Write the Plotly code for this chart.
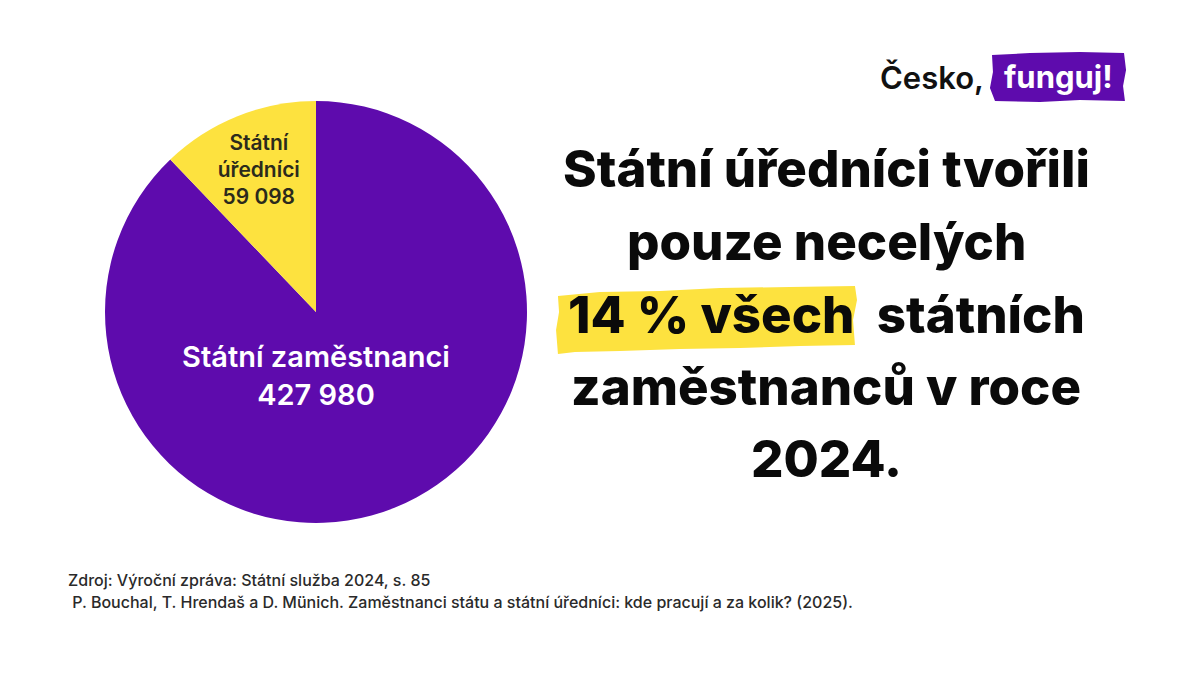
import plotly.graph_objects as go

W, H = 1200, 675
OFF = 8  # page body margin

# data
labels = ["Státní zaměstnanci", "Státní úředníci"]
label_text = ["Státní zaměstnanci", "Státní<br>úředníci"]
values = [427980, 59098]
colors = ["#5E0BAD", "#FDE23F"]
text_colors = ["#FFFFFF", "#2B2A1C"]

title_lines = [
    "Státní úředníci tvořili",
    "pouze necelých",
    "14 % všech\u00a0\u00a0státních",
    "zaměstnanců v roce",
    "2024.",
]
source_lines = [
    "Zdroj: Výroční zpráva: Státní služba 2024, s. 85",
    " P. Bouchal, T. Hrendaš a D. Münich. Zaměstnanci státu a státní úředníci: kde pracují a za kolik? (2025).",
]


def px(x):
    return (x - OFF) / W


def py(y):
    return 1 - (y - OFF) / H


def brush(pts):
    # pixel points -> svg path in paper coords
    return "M " + " L ".join(f"{px(x):.4f},{py(y):.4f}" for x, y in pts) + " Z"


fig = go.Figure()

fig.add_trace(go.Pie(
    labels=labels,
    values=values,
    text=label_text,
    texttemplate="%{text}<br>%{value:,}",
    textposition="inside",
    insidetextorientation="horizontal",
    sort=False,
    direction="clockwise",
    rotation=0,
    marker=dict(colors=colors, line=dict(width=0)),
    insidetextfont=dict(family="Inter", size=[29, 29], color=text_colors, weight=600),
    hoverinfo="label+value",
    showlegend=False,
    domain=dict(x=[px(105), px(527)], y=[py(523), py(101)]),
))

# yellow highlight behind "14 % všech"
highlight = [(558, 296), (600, 292), (660, 291), (720, 288), (790, 287), (855, 286),
             (857, 300), (853, 320), (855, 345), (800, 346), (740, 348), (680, 349),
             (620, 351), (575, 352), (558, 354), (556, 330), (559, 312)]
fig.add_shape(type="path", path=brush(highlight), xref="paper", yref="paper",
              fillcolor="#FDE23F", line=dict(width=0), layer="below")

# logo brush
logo = [(992, 55), (1030, 53), (1080, 52), (1124, 53), (1126, 70), (1123, 86),
        (1125, 101), (1080, 100), (1040, 102), (995, 101), (990, 88), (993, 72)]
fig.add_shape(type="path", path=brush(logo), xref="paper", yref="paper",
              fillcolor="#5E0BAD", line=dict(width=0), layer="below")

annotations = []
line_y = [168, 241, 314, 386, 458]
for t, y in zip(title_lines, line_y):
    annotations.append(dict(
        text=t, x=px(826), y=py(y), xref="paper", yref="paper",
        xanchor="center", yanchor="middle", showarrow=False,
        font=dict(family="Inter", size=51, color="#0A0A0A", weight=800),
    ))

annotations.append(dict(text="Česko,", x=px(878), y=py(77), xref="paper", yref="paper",
                        xanchor="left", yanchor="middle", showarrow=False,
                        font=dict(family="Inter", size=31, color="#111111", weight=600)))
annotations.append(dict(text="funguj!", x=px(1058), y=py(76), xref="paper", yref="paper",
                        xanchor="center", yanchor="middle", showarrow=False,
                        font=dict(family="Inter", size=31, color="#FFFFFF", weight=700)))

for t, y in zip(source_lines, [580, 602]):
    annotations.append(dict(text=t, x=px(66), y=py(y), xref="paper", yref="paper",
                            xanchor="left", yanchor="middle", showarrow=False,
                            font=dict(family="Inter", size=16, color="#2A2A2A", weight=500)))

fig.update_layout(
    width=W, height=H,
    margin=dict(l=0, r=0, t=0, b=0),
    paper_bgcolor="#FFFFFF",
    plot_bgcolor="#FFFFFF",
    separators=", ",
    annotations=annotations,
)

fig.write_html("out.html")
